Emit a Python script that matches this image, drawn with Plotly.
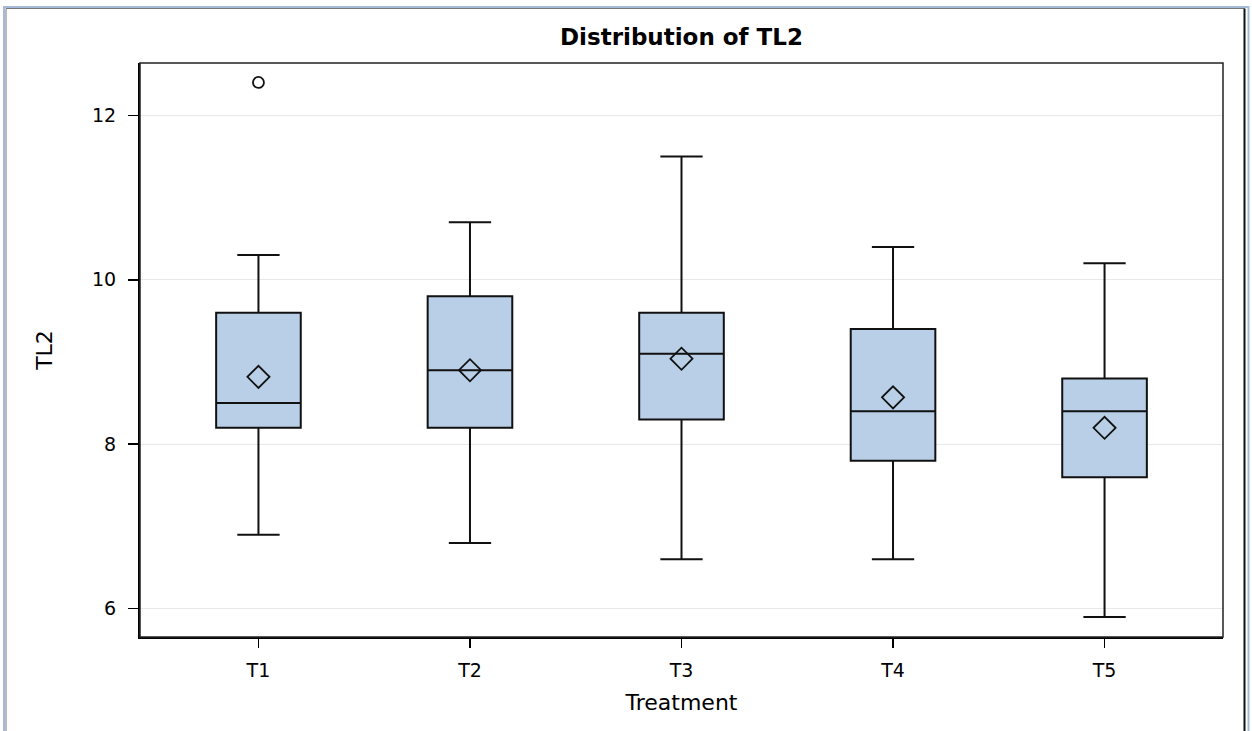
import plotly.graph_objects as go

# ---- data ----
treatments = ["T1", "T2", "T3", "T4", "T5"]
whisker_low = [6.9, 6.8, 6.6, 6.6, 5.9]
q1_vals = [8.2, 8.2, 8.3, 7.8, 7.6]
median_vals = [8.5, 8.9, 9.1, 8.4, 8.4]
q3_vals = [9.6, 9.8, 9.6, 9.4, 8.8]
whisker_high = [10.3, 10.7, 11.5, 10.4, 10.2]
mean_vals = [8.82, 8.90, 9.04, 8.57, 8.20]
outlier_x = ["T1"]
outlier_y = [12.4]
y_ticks = [6, 8, 10, 12]

W, H = 1252, 731
L, R, T, B = 140, 1223, 63, 637  # plot area in pixels

def px(x):
    return (x - L) / (R - L)

def py(y):
    return (B - y) / (B - T)

FONT = "DejaVu Sans"

fig = go.Figure()
fig.add_trace(go.Box(
    x=treatments,
    q1=q1_vals, median=median_vals, q3=q3_vals,
    lowerfence=whisker_low, upperfence=whisker_high,
    boxpoints=False,
    width=0.4,
    whiskerwidth=0.5,
    fillcolor="#B9CFE7",
    line=dict(color="#111111", width=2),
    showlegend=False,
    hoverinfo="skip",
))
fig.add_trace(go.Scatter(
    x=treatments, y=mean_vals, mode="markers",
    marker=dict(symbol="diamond-open", size=17, color="#111111",
                line=dict(width=1.8, color="#111111")),
    showlegend=False, hoverinfo="skip",
))
fig.add_trace(go.Scatter(
    x=outlier_x, y=outlier_y, mode="markers",
    marker=dict(symbol="circle-open", size=11, color="#111111",
                line=dict(width=1.8, color="#111111")),
    showlegend=False, hoverinfo="skip",
))

shapes = [
    # plot frame top/right
    dict(type="rect", xref="paper", yref="paper", x0=0, x1=1, y0=0, y1=1,
         line=dict(color="#222222", width=1.5), layer="above"),
    # outer page border (light blue)
    dict(type="rect", xref="paper", yref="paper",
         x0=px(4), x1=px(1248.5), y0=py(745), y1=py(7),
         line=dict(color="#A5B9D9", width=2), layer="below"),
    # inner dark border
    dict(type="line", xref="paper", yref="paper",
         x0=px(6), x1=px(6), y0=py(745), y1=py(8.5),
         line=dict(color="#777777", width=1)),
    dict(type="line", xref="paper", yref="paper",
         x0=px(6), x1=px(1244.5), y0=py(8.5), y1=py(8.5),
         line=dict(color="#777777", width=1)),
    dict(type="line", xref="paper", yref="paper",
         x0=px(1244.5), x1=px(1244.5), y0=py(745), y1=py(8.5),
         line=dict(color="#111111", width=2)),
]

fig.update_layout(
    width=W, height=H,
    margin=dict(l=L, r=W - R, t=T, b=H - B),
    paper_bgcolor="white", plot_bgcolor="white",
    font=dict(family=FONT, color="#000000", size=19),
    title=dict(text="<b>Distribution of TL2</b>", xref="paper", x=0.5, xanchor="center",
               yref="container", y=1 - 37 / H, yanchor="middle",
               font=dict(family=FONT, size=23, color="#000000")),
    shapes=shapes,
    hovermode=False,
)
fig.update_xaxes(
    type="category", range=[-0.56, 4.56],
    showline=True, linecolor="#000000", linewidth=2,
    ticks="outside", ticklen=9, tickwidth=1.5, tickcolor="#000000",
    showgrid=False, zeroline=False,
    tickfont=dict(family=FONT, size=19),
    ticklabelstandoff=6,
    title=dict(text="Treatment", font=dict(family=FONT, size=22), standoff=15),
)
fig.update_yaxes(
    range=[5.656, 12.636],
    tickvals=y_ticks, ticktext=[str(v) for v in y_ticks],
    showline=True, linecolor="#000000", linewidth=2,
    ticks="outside", ticklen=10, tickwidth=1.5, tickcolor="#000000",
    showgrid=True, gridcolor="#E8E8E8", gridwidth=1,
    zeroline=False,
    tickfont=dict(family=FONT, size=19),
    ticklabelstandoff=8,
    title=dict(text="TL2", font=dict(family=FONT, size=22), standoff=33),
)

fig.write_html("out.html", config={"displayModeBar": False, "staticPlot": True},
               post_script="document.body.style.margin='0px';document.body.style.overflow='hidden';")
